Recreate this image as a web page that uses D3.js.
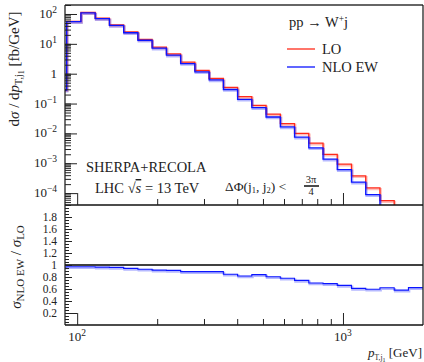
<!DOCTYPE html>
<html>
<head>
<meta charset="utf-8">
<script src="https://cdn.jsdelivr.net/npm/d3@7"></script>
<style>
  body { margin: 0; background: #fff; }
  text { font-family: "Liberation Serif", "DejaVu Serif", serif; fill: #222; }
</style>
</head>
<body>
<div id="chart"></div>
<script>
// bin edges of p_T,j1 [GeV] (first bin lies left of the visible range)
const binEdges = [81, 91.3, 103.3, 116.9, 132.2, 149.6, 169.2, 191.4, 216.6, 245.0,
  277.2, 313.6, 354.8, 401.3, 454.0, 513.6, 581.1, 657.3, 743.6, 841.3,
  951.5, 1076.4, 1217.8, 1377.6, 1558.5, 1763, 1995];
// dsigma/dpT [fb/GeV]
const loValues = [0.29, 57, 113, 72, 43, 24.9, 14.2, 7.8, 4.6, 2.46,
  1.30, 0.70, 0.35, 0.17, 0.087, 0.044, 0.0213, 0.0101, 0.0047, 0.0020,
  0.00093, 0.00038, 0.00015, 0.000056, 0.000022, 0.0000085];
const nloEwValues = [0.28, 55.3, 109.6, 69.5, 41.3, 23.5, 13.2, 7.14, 4.19, 2.19,
  1.157, 0.623, 0.296, 0.139, 0.0731, 0.0354, 0.01657, 0.00752, 0.00329, 0.00138,
  0.000614, 0.000232, 0.0000893, 0.0000347, 0.0000128, 0.0000053];
const yTicksMain = [1e2, 1e1, 1, 1e-1, 1e-2, 1e-3, 1e-4];
const yTicksRatio = [0.2, 0.4, 0.6, 0.8, 1, 1.2, 1.4, 1.6, 1.8];
const xTicks = [100, 1000];

const width = 424, height = 362;
const pLeft = 65, pRight = 423, pTop = 5, pMid = 205, pBottom = 325;

const svg = d3.select("#chart").append("svg")
  .attr("width", width).attr("height", height);

const x = d3.scaleLog().domain([90, 2000]).range([pLeft, pRight]);
const y = d3.scaleLog().domain([4e-5, 200]).range([pMid, pTop]);
const yr = d3.scaleLinear().domain([0, 2]).range([pBottom, pMid]);

const defs = svg.append("defs");
defs.append("clipPath").attr("id", "clipMain").append("rect")
  .attr("x", pLeft).attr("y", pTop).attr("width", pRight - pLeft).attr("height", pMid - pTop);
defs.append("clipPath").attr("id", "clipRatio").append("rect")
  .attr("x", pLeft).attr("y", pMid).attr("width", pRight - pLeft).attr("height", pBottom - pMid);

// histogram points for a step line
function steps(vals) {
  const pts = vals.map((v, i) => [binEdges[i], v]);
  pts.push([binEdges[vals.length], vals[vals.length - 1]]);
  return pts;
}

function drawHist(g, vals, yScale, color, w) {
  const line = d3.line().x((d) => x(d[0])).y((d) => yScale(d[1])).curve(d3.curveStepAfter);
  // faint offset copy, like the blur in the original
  g.append("path").attr("d", line(steps(vals)))
    .attr("fill", "none").attr("stroke", color).attr("stroke-width", 2.2)
    .attr("opacity", 0.3).attr("transform", "translate(0.8,1.2)");
  g.append("path").attr("d", line(steps(vals)))
    .attr("fill", "none").attr("stroke", color).attr("stroke-width", w);
}

const gMain = svg.append("g").attr("clip-path", "url(#clipMain)");
drawHist(gMain, loValues, y, "#ff2a1a", 1.3);
drawHist(gMain, nloEwValues, y, "#0a14ff", 1.3);

const ratio = nloEwValues.map((v, i) => v / loValues[i]);
const gRatio = svg.append("g").attr("clip-path", "url(#clipRatio)");
gRatio.append("line")
  .attr("x1", pLeft).attr("x2", pRight).attr("y1", yr(1)).attr("y2", yr(1))
  .attr("stroke", "#000").attr("stroke-width", 1.3);
drawHist(gRatio, ratio, yr, "#0a14ff", 1.1);

// frame
const frame = svg.append("g").attr("stroke", "#111").attr("fill", "none");
frame.append("line").attr("x1", pLeft).attr("x2", pRight).attr("y1", pTop).attr("y2", pTop)
  .attr("stroke", "#666").attr("stroke-width", 2);
frame.append("line").attr("x1", pRight).attr("x2", pRight).attr("y1", pTop).attr("y2", pBottom).attr("stroke-width", 1.2);
frame.append("line").attr("x1", pLeft).attr("x2", pLeft).attr("y1", pTop).attr("y2", pBottom).attr("stroke-width", 1.2);
frame.append("line").attr("x1", pLeft).attr("x2", pRight).attr("y1", pMid).attr("y2", pMid).attr("stroke-width", 1.3);
frame.append("line").attr("x1", pLeft).attr("x2", pRight).attr("y1", pBottom).attr("y2", pBottom).attr("stroke-width", 1.3);

// y axis main (log, with minor ticks)
const minorMain = [];
for (let e = -5; e <= 2; e++) for (let m = 1; m <= 9; m++) {
  const v = m * Math.pow(10, e);
  if (v >= 4e-5 && v <= 200) minorMain.push(v);
}
const yAxisMain = svg.append("g").attr("transform", `translate(${pLeft},0)`);
yAxisMain.call(d3.axisRight(y).tickValues(minorMain).tickSize(6).tickFormat(""));
yAxisMain.append("g").call(d3.axisRight(y).tickValues(yTicksMain).tickSize(12).tickFormat(""));
yAxisMain.selectAll(".domain").remove();
yAxisMain.selectAll("line").attr("stroke", "#222");

const labMain = svg.append("g").attr("font-size", 13).attr("text-anchor", "end");
yTicksMain.forEach((v) => {
  const e = Math.round(Math.log10(v));
  const t = labMain.append("text").attr("x", 57).attr("y", y(v) + 4);
  if (e === 0) { t.text("1"); return; }
  t.append("tspan").text("10");
  t.append("tspan").attr("dy", -5).attr("font-size", 9.5).text(e < 0 ? "\u2212" + (-e) : e);
});

// y axis ratio
const minorRatio = d3.range(0.05, 2, 0.05);
const yAxisRatio = svg.append("g").attr("transform", `translate(${pLeft},0)`);
yAxisRatio.call(d3.axisRight(yr).tickValues(minorRatio).tickSize(4).tickFormat(""));
yAxisRatio.append("g").call(d3.axisRight(yr).tickValues(yTicksRatio).tickSize(7).tickFormat(""));
yAxisRatio.append("g").call(d3.axisRight(yr).tickValues([0.2]).tickSize(12).tickFormat(""));
yAxisRatio.selectAll(".domain").remove();
yAxisRatio.selectAll("line").attr("stroke", "#222");

svg.append("g").attr("font-size", 11.5).attr("text-anchor", "end")
  .selectAll("text").data(yTicksRatio).join("text")
  .attr("x", 57).attr("y", (d) => yr(d) + 3.5)
  .text((d) => d3.format("")(Math.round(d * 10) / 10));

// x axis ticks (both panels, inward)
const minorX = [200, 300, 400, 500, 600, 700, 800, 900];
[pMid, pBottom].forEach((yy) => {
  const g = svg.append("g").attr("transform", `translate(0,${yy})`);
  g.call(d3.axisTop(x).tickValues(minorX).tickSize(6).tickFormat(""));
  g.append("g").call(d3.axisTop(x).tickValues(xTicks).tickSize(12).tickFormat(""));
  g.selectAll(".domain").remove();
  g.selectAll("line").attr("stroke", "#222");
});
const labX = svg.append("g").attr("font-size", 13).attr("text-anchor", "middle");
xTicks.forEach((v) => {
  const t = labX.append("text").attr("x", x(v)).attr("y", 341);
  t.append("tspan").text("10");
  t.append("tspan").attr("dy", -5).attr("font-size", 9.5).text(Math.round(Math.log10(v)));
});

// axis titles
const xt = svg.append("text").attr("x", 422).attr("y", 357).attr("text-anchor", "end").attr("font-size", 13);
xt.append("tspan").attr("font-style", "italic").text("p");
xt.append("tspan").attr("dy", 3).attr("font-size", 7.5).text("T,j");
xt.append("tspan").attr("dy", 1.5).attr("font-size", 6).text("1");
xt.append("tspan").attr("dy", -4.5).text(" [GeV]");

const yt = svg.append("text").attr("transform", "translate(19,69) rotate(-90)")
  .attr("text-anchor", "middle").attr("font-size", 15);
yt.append("tspan").text("d");
yt.append("tspan").attr("font-style", "italic").text("\u03c3");
yt.append("tspan").text(" / d");
yt.append("tspan").attr("font-style", "italic").text("p");
yt.append("tspan").attr("dy", 3).attr("font-size", 10).text("T,j");
yt.append("tspan").attr("dy", 1.5).attr("font-size", 8).text("1");
yt.append("tspan").attr("dy", -4.5).text(" [fb/GeV]");

const yrt = svg.append("text").attr("transform", "translate(21,267) rotate(-90)")
  .attr("text-anchor", "middle").attr("font-size", 15);
yrt.append("tspan").attr("font-style", "italic").text("\u03c3");
yrt.append("tspan").attr("dy", 3).attr("font-size", 11).text("NLO EW");
yrt.append("tspan").attr("dy", -3).text(" / ");
yrt.append("tspan").attr("font-style", "italic").text("\u03c3");
yrt.append("tspan").attr("dy", 3).attr("font-size", 11).text("LO");

// process label and legend
const proc = svg.append("text").attr("x", 289).attr("y", 27).attr("font-size", 14.5);
proc.append("tspan").text("pp \u2192 W");
proc.append("tspan").attr("dy", -5).attr("font-size", 9.5).text("+");
proc.append("tspan").attr("dy", 5).text("j");

const legendItems = [["LO", "#ff2a1a", 49], ["NLO EW", "#0a14ff", 67]];
legendItems.forEach(([name, color, yy]) => {
  svg.append("line").attr("x1", 287).attr("x2", 315).attr("y1", yy).attr("y2", yy)
    .attr("stroke", color).attr("stroke-width", 1.3);
  svg.append("text").attr("x", 322).attr("y", yy + 5).attr("font-size", 14.5).text(name);
});

// annotations
svg.append("text").attr("x", 86).attr("y", 172).attr("font-size", 14.5).text("SHERPA+RECOLA");
const lhc = svg.append("text").attr("x", 95).attr("y", 193).attr("font-size", 14.5);
lhc.append("tspan").text("LHC \u221a");
lhc.append("tspan").attr("font-style", "italic").attr("text-decoration", "overline").text("s");
lhc.append("tspan").text(" = 13 TeV");

const dphi = svg.append("text").attr("x", 225).attr("y", 191).attr("font-size", 13.5);
dphi.append("tspan").text("\u0394\u03a6(j");
dphi.append("tspan").attr("dy", 2).attr("font-size", 8.5).text("1");
dphi.append("tspan").attr("dy", -2).text(", j");
dphi.append("tspan").attr("dy", 2).attr("font-size", 8.5).text("2");
dphi.append("tspan").attr("dy", -2).text(") <");
svg.append("text").attr("x", 311).attr("y", 183).attr("font-size", 10.5).attr("text-anchor", "middle").text("3\u03c0");
svg.append("line").attr("x1", 304).attr("x2", 319).attr("y1", 186).attr("y2", 186).attr("stroke", "#111").attr("stroke-width", 1.5);
svg.append("text").attr("x", 311).attr("y", 195).attr("font-size", 10.5).attr("text-anchor", "middle").text("4");
</script>
</body>
</html>
